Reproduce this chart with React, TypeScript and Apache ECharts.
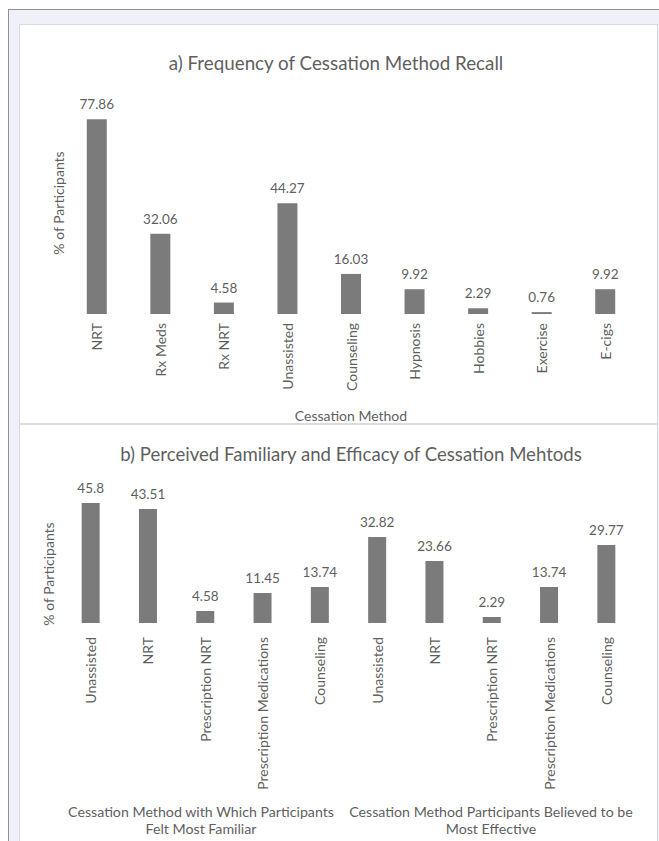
import React, { useEffect, useRef } from "react";
import * as echarts from "echarts";

const recallCategories = ["NRT", "Rx Meds", "Rx NRT", "Unassisted", "Counseling", "Hypnosis", "Hobbies", "Exercise", "E-cigs"];
const recallValues = [77.86, 32.06, 4.58, 44.27, 16.03, 9.92, 2.29, 0.76, 9.92];

const perceivedCategories = [
  "Unassisted", "NRT", "Prescription NRT", "Prescription Medications", "Counseling",
  "Unassisted", "NRT", "Prescription NRT", "Prescription Medications", "Counseling",
];
const perceivedValues = [45.8, 43.51, 4.58, 11.45, 13.74, 32.82, 23.66, 2.29, 13.74, 29.77];

const groupLabels = [
  "Cessation Method with Which Participants\nFelt Most Familiar",
  "Cessation Method Participants Believed to be\nMost Effective",
];

const titleA = "a) Frequency of Cessation Method Recall";
const titleB = "b) Perceived Familiary and Efficacy of Cessation Mehtods";
const yName = "% of Participants";
const xNameA = "Cessation Method";

const TXT = "#5f5f5f";
const BAR = "#7b7b7b";
const FONT = "Lato";

export default function App() {
  const ref = useRef<HTMLDivElement>(null);

  useEffect(() => {
    if (!ref.current) return;
    const chart = echarts.init(ref.current, null, { renderer: "svg" });
    const txt = (x: number, y: number, text: string, size: number, rot = 0, lh?: number) => ({
      type: "text",
      x,
      y,
      rotation: rot,
      style: {
        text,
        fill: TXT,
        fontSize: size,
        fontFamily: FONT,
        align: "center",
        verticalAlign: "middle",
        lineHeight: lh,
      },
    });
    chart.setOption({
      animation: false,
      textStyle: { fontFamily: FONT, color: TXT },
      grid: [
        { left: 65, top: 114, width: 572, height: 200 },
        { left: 62, top: 492, width: 573, height: 131 },
      ],
      xAxis: [
        {
          gridIndex: 0,
          type: "category",
          data: recallCategories,
          axisLine: { show: false },
          axisTick: { show: false },
          axisLabel: { rotate: 90, fontSize: 14, color: TXT, margin: 9, fontFamily: FONT },
        },
        {
          gridIndex: 1,
          type: "category",
          data: perceivedCategories,
          axisLine: { show: false },
          axisTick: { show: false },
          axisLabel: { rotate: 90, fontSize: 14, color: TXT, margin: 14, fontFamily: FONT, interval: 0 },
        },
      ],
      yAxis: [
        { gridIndex: 0, type: "value", min: 0, max: 80, show: false },
        { gridIndex: 1, type: "value", min: 0, max: 50, show: false },
      ],
      series: [
        {
          type: "bar",
          xAxisIndex: 0,
          yAxisIndex: 0,
          data: recallValues,
          barWidth: 20,
          itemStyle: { color: BAR },
          label: { show: true, position: "top", distance: 8, fontSize: 13.5, color: TXT, fontFamily: FONT },
        },
        {
          type: "bar",
          xAxisIndex: 1,
          yAxisIndex: 1,
          data: perceivedValues,
          barWidth: 18,
          itemStyle: { color: BAR },
          label: { show: true, position: "top", distance: 8, fontSize: 13.5, color: TXT, fontFamily: FONT },
        },
      ],
      graphic: [
        txt(336, 62, titleA, 18.8),
        txt(351, 454, titleB, 18.6),
        txt(58, 203, yName, 14, Math.PI / 2),
        txt(48, 574, yName, 14, Math.PI / 2),
        txt(351, 415, xNameA, 14),
        txt(201, 820, groupLabels[0], 14.2, 0, 17),
        txt(491, 820, groupLabels[1], 14.2, 0, 17),
      ],
    });
    return () => chart.dispose();
  }, []);

  return (
    <div style={{ position: "fixed", left: 0, top: 0, width: 659, height: 841, background: "#fff", overflow: "hidden" }}>
      <div
        style={{
          position: "absolute",
          left: 8,
          top: 9,
          width: 651,
          height: 832,
          background: "#f0f1f8",
          borderTop: "1px solid #8f8f8f",
          borderLeft: "1px solid #8f8f8f",
          boxSizing: "border-box",
        }}
      />
      <div
        style={{
          position: "absolute",
          left: 19,
          top: 24,
          width: 639,
          height: 830,
          background: "#fff",
          border: "1px solid #d9d9d9",
          boxSizing: "border-box",
        }}
      />
      <div style={{ position: "absolute", left: 19, top: 423, width: 639, height: 2, background: "#dcdcdc" }} />
      <div ref={ref} style={{ position: "absolute", left: 0, top: 0, width: 659, height: 841 }} />
    </div>
  );
}
